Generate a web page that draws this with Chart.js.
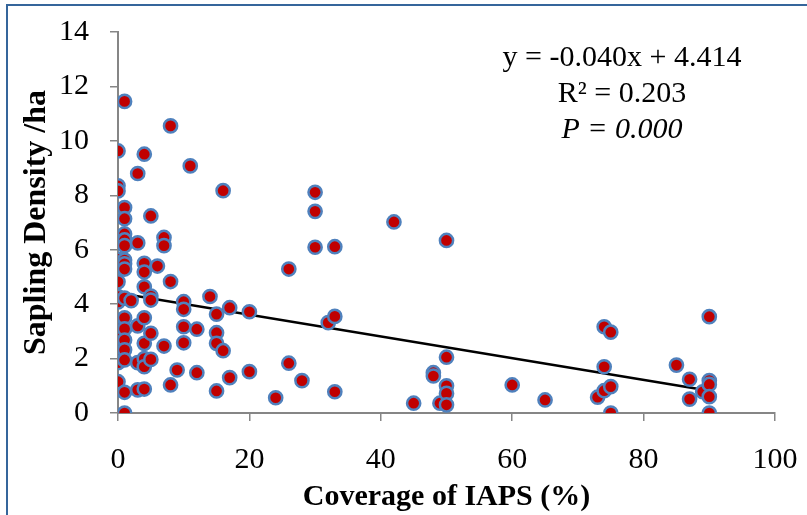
<!DOCTYPE html>
<html>
<head>
<meta charset="utf-8">
<script src="https://cdn.jsdelivr.net/npm/chart.js@4/dist/chart.umd.min.js"></script>
<style>
  html, body { margin: 0; padding: 0; background: #fff; }
  #wrap { width: 807px; height: 515px; position: relative; }
</style>
</head>
<body>
<div id="wrap"><canvas id="myChart" width="807" height="515"></canvas></div>
<script>
// values
const coverage = [
  0, 0, 0, 0, 0, 0, 0, 0, 0, 0, 0, 0, 0,
  1, 1, 1, 1, 1, 1, 1, 1, 1, 1, 1, 1, 1, 1, 1, 1, 1,
  2,
  3, 3, 3, 3, 3,
  4, 4, 4, 4, 4, 4, 4, 4, 4,
  5, 5, 5, 5, 5,
  6,
  7, 7, 7,
  8, 8, 8,
  9,
  10, 10, 10, 10,
  11,
  12, 12,
  14,
  15, 15, 15, 15,
  16, 16,
  17, 17,
  20, 20,
  24,
  26, 26,
  28,
  30, 30, 30,
  32,
  33, 33, 33,
  42,
  45,
  48, 48,
  49,
  50, 50, 50, 50, 50,
  60,
  65,
  73,
  74, 74, 74,
  75, 75, 75,
  85,
  87, 87,
  89,
  90, 90, 90, 90, 90,
]
const density = [
  9.63, 8.35, 8.16, 5.65, 4.82, 4.28, 4.08, 3.08, 2.8, 2.32, 2.05, 1.85, 1.15,
  11.45, 7.55, 7.14, 6.58, 6.36, 6.15, 5.62, 5.48, 5.29, 4.22, 3.5, 3.09, 2.68, 2.32, 1.95, 0.76, 0,
  4.13,
  8.8, 6.25, 3.2, 1.85, 0.85,
  9.51, 5.5, 5.18, 4.64, 3.5, 2.56, 2.0, 1.7, 0.88,
  7.24, 4.3, 4.15, 2.93, 1.97,
  5.4,
  6.45, 6.15, 2.46,
  10.55, 4.83, 1.03,
  1.58,
  4.09, 3.81, 3.17, 2.58,
  9.08,
  3.08, 1.48,
  4.28,
  3.63, 2.95, 2.56, 0.81,
  8.17, 2.29,
  3.87, 1.3,
  3.72, 1.52,
  0.56,
  5.29, 1.83,
  1.19,
  8.11, 7.41, 6.09,
  3.32,
  6.11, 3.55, 0.78,
  7.02,
  0.36,
  1.48, 1.36,
  0.36,
  6.34, 2.05, 1.0, 0.72, 0.3,
  1.03,
  0.48,
  0.58,
  3.17, 1.7, 0.82,
  2.97, 0.97, 0,
  1.76,
  1.24, 0.51,
  0.78,
  3.54, 1.19, 1.05, 0.6, 0,
]
const trendX = [0, 90]
const slope = -0.040
const intercept = 4.414
const xTicks = [0, 20, 40, 60, 80, 100]
const yTicks = [0, 2, 4, 6, 8, 10, 12, 14]
const statLines = ['y = -0.040x + 4.414', 'R² = 0.203', 'P = 0.000']

const points = coverage.map((x, i) => ({ x, y: density[i] }))
const trend = trendX.map((x) => ({ x, y: slope * x + intercept }))

const serif = "'Liberation Serif', 'Times New Roman', serif"
const axisGray = '#868686'

// frame and the regression text box
const extras = {
  id: 'extras',
  beforeDraw(chart) {
    const ctx = chart.ctx
    ctx.save()
    ctx.fillStyle = '#fff'
    ctx.fillRect(0, 0, chart.width, chart.height)
    ctx.restore()
  },
  afterDraw(chart) {
    const ctx = chart.ctx
    ctx.save()
    ctx.strokeStyle = '#35659b'
    ctx.lineWidth = 2
    ctx.strokeRect(7, 5, 900, 600)
    ctx.fillStyle = '#000'
    ctx.textAlign = 'center'
    ctx.textBaseline = 'middle'
    ctx.font = '30px ' + serif
    ctx.fillText(statLines[0], 622, 58)
    ctx.fillText(statLines[1], 622, 94)
    ctx.font = 'italic 30px ' + serif
    ctx.fillText(statLines[2], 622, 130)
    ctx.restore()
  },
}

const ctx = document.getElementById('myChart').getContext('2d')
const chart = new Chart(ctx, {
  type: 'scatter',
  data: {
    datasets: [
      {
        type: 'line',
        data: trend,
        borderColor: '#000',
        borderWidth: 2.5,
        pointRadius: 0,
        fill: false,
        order: 2,
      },
      {
        data: points,
        backgroundColor: '#c00000',
        borderColor: '#4f81bd',
        borderWidth: 2.5,
        pointRadius: 6.6,
        order: 1,
      },
    ],
  },
  options: {
    responsive: false,
    animation: false,
    layout: { autoPadding: false, padding: { left: 0, top: 32, right: 32, bottom: 0 } },
    plugins: { legend: { display: false }, tooltip: { enabled: false } },
    scales: {
      x: {
        type: 'linear',
        min: 0,
        max: 100,
        afterBuildTicks: (scale) => { scale.ticks = xTicks.map((v) => ({ value: v })) },
        afterFit: (scale) => {
          scale.height = 102
          scale.paddingLeft = 0
          scale.paddingRight = 0
        },
        border: { color: axisGray, width: 2 },
        grid: { drawOnChartArea: false, color: axisGray, lineWidth: 1.5, tickLength: 8 },
        ticks: { color: '#000', padding: 21, font: { family: serif, size: 30 } },
        title: {
          display: true,
          text: 'Coverage of IAPS (%)',
          color: '#000',
          padding: { top: 0, bottom: 0 },
          font: { family: serif, size: 30, weight: 'bold' },
        },
      },
      y: {
        min: 0,
        max: 14,
        afterBuildTicks: (scale) => { scale.ticks = yTicks.map((v) => ({ value: v })) },
        afterFit: (scale) => {
          scale.width = 118
          scale.paddingTop = 0
          scale.paddingBottom = 0
        },
        border: { color: axisGray, width: 2 },
        grid: { drawOnChartArea: false, color: axisGray, lineWidth: 1.5, tickLength: 8 },
        ticks: { color: '#000', padding: 21, font: { family: serif, size: 30 } },
        title: {
          display: true,
          text: 'Sapling Density /ha',
          color: '#000',
          padding: { top: 18, bottom: 0 },
          font: { family: serif, size: 32, weight: 'bold' },
        },
      },
    },
  },
  plugins: [extras],
})
</script>
</body>
</html>
